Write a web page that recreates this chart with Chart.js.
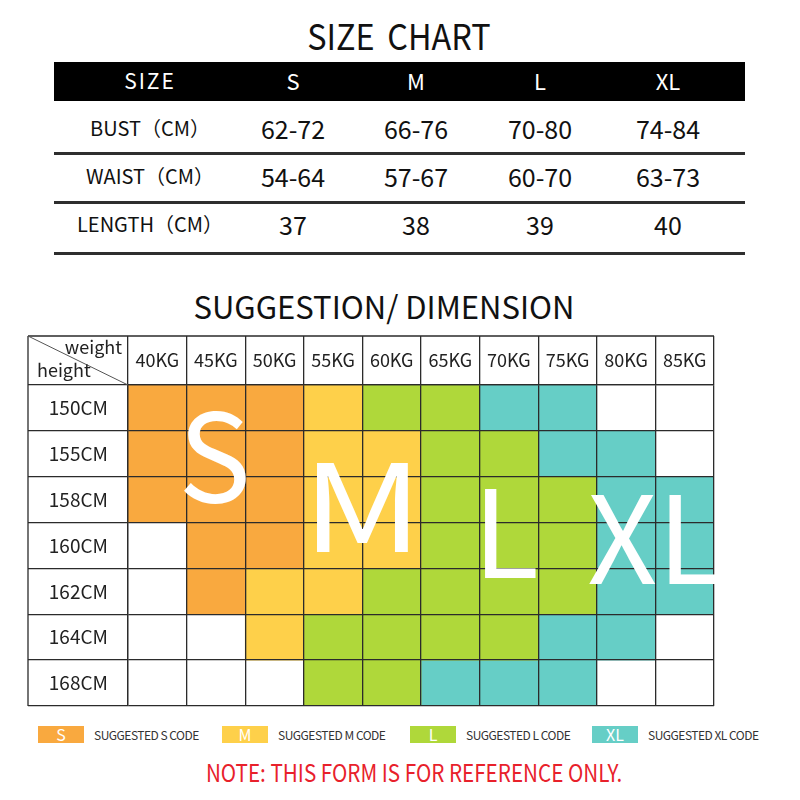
<!DOCTYPE html>
<html>
<head>
<meta charset="utf-8">
<script src="https://cdn.jsdelivr.net/npm/chart.js@4.4.1/dist/chart.umd.min.js"></script>
<style>
  body { margin: 0; width: 800px; height: 800px; background: #fff; position: relative; overflow: hidden;
         font-family: "Noto Sans CJK SC", "Noto Sans", sans-serif; color: #111; }
  .t { position: absolute; white-space: nowrap; text-align: center; }
  #band { position: absolute; left: 54px; top: 62px; width: 691px; height: 39px; background: #000; }
  .rule { position: absolute; left: 54px; width: 691px; height: 3px; background: #2e2e2e; }
  #grid { position: absolute; left: 26px; top: 334px; width: 690px; height: 374px; }
  .box { position: absolute; top: 726px; width: 46px; height: 17px; color: #fff; text-align: center;
         font-size: 16px; line-height: 17px; }
  .lg { position: absolute; top: 727px; font-size: 12px; line-height: 16px; color: #333; letter-spacing: -0.5px; }
</style>
</head>
<body>
<div class="t" style="left:0;width:798px;top:12px;font-size:36px;line-height:44px;word-spacing:6px;transform:scaleX(0.9);">SIZE CHART</div>
<div id="band"></div>
<div class="rule" style="top:152px"></div>
<div class="rule" style="top:201px"></div>
<div class="rule" style="top:252px"></div>
<div id="sizeTable"></div>

<div class="t" style="left:0;width:768px;top:286px;font-size:31px;line-height:40px;">SUGGESTION/ DIMENSION</div>
<div id="grid"><canvas id="myChart"></canvas></div>

<div id="legend"></div>
<div class="t" style="left:0;width:828px;top:757px;font-size:24px;line-height:30px;color:#e8212b;">
  <span style="display:inline-block;transform:scaleX(0.86);">NOTE: THIS FORM IS FOR REFERENCE ONLY.</span>
</div>

<script>
// size chart table
var tableSizes = ['S', 'M', 'L', 'XL'];
var bust = ['62-72', '66-76', '70-80', '74-84'];
var waist = ['54-64', '57-67', '60-70', '63-73'];
var lengths = ['37', '38', '39', '40'];
var rowNames = ['BUST（CM）', 'WAIST（CM）', 'LENGTH（CM）'];

// suggestion grid
var weights = ['40KG', '45KG', '50KG', '55KG', '60KG', '65KG', '70KG', '75KG', '80KG', '85KG'];
var heights = ['150CM', '155CM', '158CM', '160CM', '162CM', '164CM', '168CM'];
var sizes = ['S', 'M', 'L', 'XL'];
var sizeColors = ['#F9A93F', '#FED04A', '#AFD83A', '#66CEC6'];
// suggested size for each weight, one list per height ('' = none)
var row150 = ['S', 'S', 'S', 'M', 'L', 'L', 'XL', 'XL', '', ''];
var row155 = ['S', 'S', 'S', 'M', 'M', 'L', 'L', 'XL', 'XL', ''];
var row158 = ['S', 'S', 'S', 'M', 'M', 'L', 'L', 'L', 'XL', 'XL'];
var row160 = ['', 'S', 'S', 'M', 'M', 'L', 'L', 'L', 'XL', 'XL'];
var row162 = ['', 'S', 'M', 'M', 'L', 'L', 'L', 'L', 'XL', 'XL'];
var row164 = ['', '', 'M', 'L', 'L', 'L', 'L', 'XL', 'XL', ''];
var row168 = ['', '', '', 'L', 'L', 'XL', 'XL', 'XL', '', ''];
var gridRows = [row150, row155, row158, row160, row162, row164, row168];

// --- top table (html text) ---
var colX = [150, 293, 416, 540, 668];
var rowY = [82, 130, 178, 226];
var tbl = document.getElementById('sizeTable');
function addText(str, cx, cy, size, color) {
  var d = document.createElement('div');
  d.className = 't';
  d.style.cssText = 'left:' + (cx - 100) + 'px;width:200px;top:' + (cy - 17) + 'px;line-height:30px;font-size:' + size + 'px;color:' + color;
  d.textContent = str;
  tbl.appendChild(d);
  return d;
}
addText('SIZE', colX[0], rowY[0], 21, '#fff').style.letterSpacing = '2px';
tableSizes.forEach(function (s, i) { addText(s, colX[i + 1], rowY[0], 22, '#fff'); });
[bust, waist, lengths].forEach(function (vals, r) {
  addText(rowNames[r], colX[0], rowY[r + 1], 20, '#111');
  vals.forEach(function (v, i) { addText(v, colX[i + 1], rowY[r + 1], 25, '#111'); });
});

// --- legend (html) ---
var legendX = [38, 222, 410, 592];
var lg = document.getElementById('legend');
sizes.forEach(function (s, i) {
  var b = document.createElement('div');
  b.className = 'box';
  b.style.left = legendX[i] + 'px';
  b.style.background = sizeColors[i];
  b.textContent = s;
  lg.appendChild(b);
  var t = document.createElement('div');
  t.className = 'lg';
  t.style.left = (legendX[i] + 56) + 'px';
  t.textContent = 'SUGGESTED ' + s + ' CODE';
  lg.appendChild(t);
});

// each size forms one run per height row -> floating horizontal bar
function runsFor(size) {
  return gridRows.map(function (row) {
    var first = row.indexOf(size), last = row.lastIndexOf(size);
    return first < 0 ? null : [first, last + 1];
  });
}

var gridColor = '#2b2b2b';
// [x value, row value, horizontal stretch] for the big white letters
var letterPos = [[1.48, 2.05, 1], [4.0, 3.15, 1.22], [6.45, 3.7, 1], [9.0, 3.85, 1]];

var framePlugin = {
  id: 'frame',
  afterDraw: function (chart) {
    var ctx = chart.ctx, y = chart.scales.y, x = chart.scales.x, top = chart.scales.xTop;
    var area = chart.chartArea;
    ctx.save();
    ctx.strokeStyle = gridColor;
    ctx.lineWidth = 1.3;
    ctx.beginPath();
    ctx.moveTo(y.left, top.top); ctx.lineTo(area.right, top.top);
    ctx.moveTo(y.left, top.top); ctx.lineTo(y.left, area.bottom);
    ctx.stroke();
    ctx.strokeStyle = '#555';
    ctx.lineWidth = 1;
    ctx.beginPath();
    ctx.moveTo(y.left, top.top); ctx.lineTo(area.left, area.top);
    ctx.stroke();
    ctx.fillStyle = '#222';
    ctx.font = '18px "Noto Sans CJK SC", "Noto Sans", sans-serif';
    ctx.textAlign = 'right';
    ctx.fillText('weight', area.left - 6, top.top + 18);
    ctx.textAlign = 'left';
    ctx.fillText('height', y.left + 9, area.top - 8);
    // big size letters
    ctx.fillStyle = '#fff';
    ctx.font = '122px "Noto Sans CJK SC", "Noto Sans", sans-serif';
    ctx.textAlign = 'center';
    sizes.forEach(function (s, i) {
      ctx.save();
      ctx.translate(x.getPixelForValue(letterPos[i][0]), y.getPixelForValue(letterPos[i][1]));
      ctx.scale(letterPos[i][2], 1);
      ctx.fillText(s, 0, 0);
      ctx.restore();
    });
    ctx.restore();
  }
};

Chart.defaults.font.family = '"Noto Sans CJK SC", "Noto Sans", sans-serif';

var ctx = document.getElementById('myChart').getContext('2d');
var myChart = new Chart(ctx, {
  type: 'bar',
  data: {
    labels: heights,
    datasets: sizes.map(function (s, i) {
      return { label: s, data: runsFor(s), backgroundColor: sizeColors[i], borderWidth: 0 };
    })
  },
  options: {
    indexAxis: 'y',
    responsive: true,
    maintainAspectRatio: false,
    animation: false,
    layout: { padding: 2 },
    datasets: { bar: { barPercentage: 1, categoryPercentage: 1, grouped: false } },
    scales: {
      x: { type: 'linear', min: 0, max: 10, display: false },
      xTop: {
        type: 'category', labels: weights, position: 'top', offset: true,
        grid: { offset: true, color: gridColor, lineWidth: 1.3, tickLength: 49, z: 1 },
        border: { color: gridColor, width: 1.3, z: 1 },
        ticks: { color: '#222', font: { size: 18 }, padding: -35, maxRotation: 0, autoSkip: false },
        afterFit: function (s) { s.height = 49; }
      },
      y: {
        type: 'category', position: 'left', offset: true,
        grid: { offset: true, color: gridColor, lineWidth: 1.3, tickLength: 100, z: 1 },
        border: { color: gridColor, width: 1.3, z: 1 },
        ticks: { color: '#222', font: { size: 19 }, crossAlign: 'center', padding: -80, autoSkip: false },
        afterFit: function (s) { s.width = 100; }
      }
    },
    plugins: {
      legend: { display: false },
      tooltip: { enabled: false }
    }
  },
  plugins: [framePlugin]
});
</script>
</body>
</html>
